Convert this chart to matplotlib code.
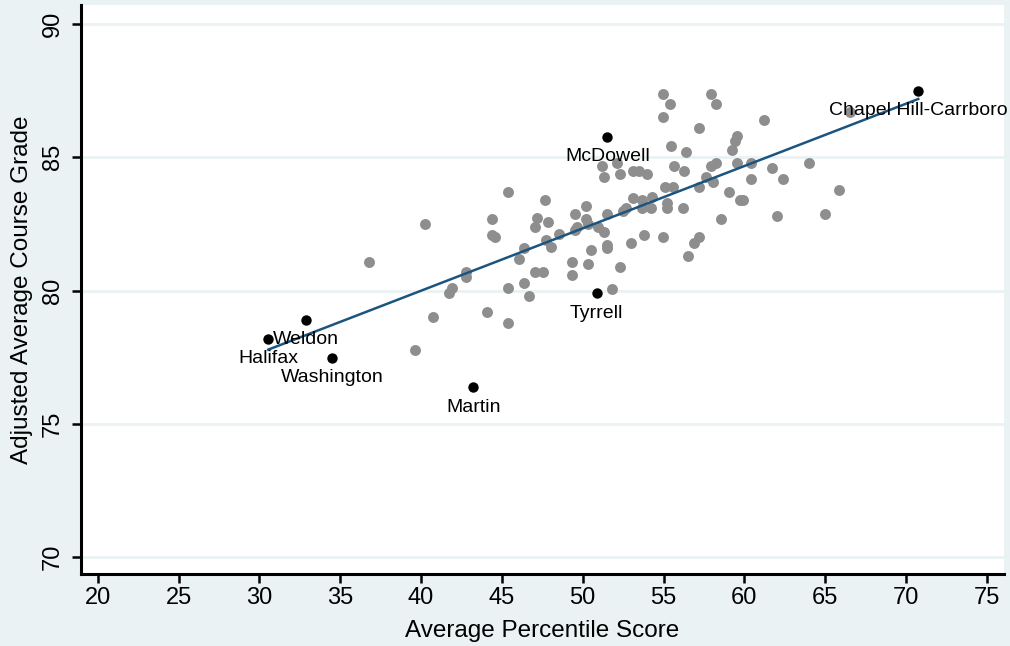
import numpy as np
import matplotlib
matplotlib.use('Agg')
import matplotlib.pyplot as plt

plt.rcParams['font.family'] = ['Liberation Sans', 'DejaVu Sans']

# other districts (grey)
gray_x = [36.80, 40.26, 39.62, 40.75, 41.91, 41.76, 42.75, 42.75, 44.06, 45.39,
          44.40, 44.40, 44.57, 45.39, 45.39, 46.05, 46.38, 46.38, 46.70, 47.03,
          47.56, 47.69, 47.19, 47.04, 47.87, 47.71, 48.01, 48.53, 49.35, 49.35,
          49.52, 50.18, 50.18, 50.35, 49.62, 49.50, 50.51, 50.32, 50.97, 51.32,
          51.48, 51.48, 51.48, 51.83, 52.31, 51.17, 51.32, 52.13, 52.31, 53.10,
          53.48, 53.95, 52.97, 53.78, 53.12, 53.64, 54.26, 53.64, 54.25, 52.51,
          52.70, 54.94, 55.39, 54.94, 54.94, 55.08, 55.60, 55.19, 55.19, 56.22,
          55.46, 56.36, 55.62, 56.26, 56.54, 57.91, 58.24, 61.22, 57.21, 59.55,
          59.41, 59.25, 57.91, 58.24, 59.55, 60.40, 57.60, 58.07, 57.21, 60.40,
          61.72, 62.36, 64.01, 59.06, 59.72, 59.93, 65.83, 58.57, 62.03, 65.00,
          57.21, 56.90, 66.53]
gray_y = [81.09, 82.49, 77.77, 79.00, 80.08, 79.90, 80.70, 80.50, 79.19, 83.69,
          82.68, 82.10, 82.00, 80.08, 78.78, 81.18, 81.58, 80.30, 79.78, 80.69,
          80.69, 83.40, 82.71, 82.40, 82.57, 81.90, 81.64, 82.11, 81.09, 80.59,
          82.88, 83.19, 82.70, 82.50, 82.40, 82.28, 81.53, 80.99, 82.40, 82.20,
          82.88, 81.70, 81.59, 80.07, 80.88, 84.68, 84.28, 84.78, 84.38, 84.49,
          84.47, 84.37, 81.78, 82.08, 83.48, 83.40, 83.50, 83.09, 83.09, 83.00,
          83.09, 87.38, 87.00, 86.50, 82.00, 83.88, 83.88, 83.28, 83.09, 83.09,
          85.41, 85.19, 84.68, 84.50, 81.28, 87.38, 87.00, 86.39, 86.10, 85.81,
          85.63, 85.28, 84.68, 84.80, 84.78, 84.78, 84.28, 84.09, 83.88, 84.19,
          84.59, 84.19, 84.78, 83.69, 83.40, 83.40, 83.78, 82.68, 82.80, 82.88,
          82.00, 81.78, 86.72]

# highlighted districts
names = ['Chapel Hill-Carrboro', 'McDowell', 'Tyrrell', 'Martin',
         'Weldon', 'Halifax', 'Washington']
named_x = [70.75, 51.52, 50.86, 43.23, 32.86, 30.55, 34.51]
named_y = [87.50, 85.78, 79.90, 76.37, 78.89, 78.18, 77.47]

xticks = [20, 25, 30, 35, 40, 45, 50, 55, 60, 65, 70, 75]
yticks = [70, 75, 80, 85, 90]

bg = '#EAF2F3'
fig = plt.figure(figsize=(10.1, 6.46), dpi=100, facecolor=bg)
ax = fig.add_axes([0.0802, 0.1115, 0.9138, 0.8808])
ax.set_facecolor('white')

ax.scatter(gray_x, gray_y, s=62, color='#8E8E8E', linewidths=0, zorder=3)
ax.scatter(named_x, named_y, s=56, color='black', linewidths=0, zorder=4)

# linear fit over all districts
all_x = np.array(gray_x + named_x)
all_y = np.array(gray_y + named_y)
b, a = np.polyfit(all_x, all_y, 1)
fx = np.array([all_x.min(), all_x.max()])
ax.plot(fx, a + b * fx, color='#1A5580', lw=1.8, zorder=5)

for n, x, y in zip(names, named_x, named_y):
    ax.annotate(n, (x, y), xytext=(0, -17.5), textcoords='offset points',
                ha='center', va='baseline', fontsize=14, zorder=6)

ax.set_xlim(18.97, 76.05)
ax.set_ylim(69.36, 90.72)
ax.set_xticks(xticks)
ax.set_yticks(yticks)
ax.grid(axis='y', color=bg, lw=2)
ax.set_axisbelow(True)

for s in ['top', 'right']:
    ax.spines[s].set_visible(False)
for s in ['left', 'bottom']:
    ax.spines[s].set_linewidth(2.2)
ax.tick_params(axis='both', length=6.5, width=1.8, labelsize=17)
ax.tick_params(axis='x', pad=3)
ax.tick_params(axis='y', pad=6)
for lab in ax.get_yticklabels():
    lab.set_rotation(90)
    lab.set_va('center')

fig.text(0.5371, (646 - 637) / 646, 'Average Percentile Score',
         ha='center', va='baseline', fontsize=17.5)
fig.text(22 / 1010, 0.552, 'Adjusted Average Course Grade',
         rotation=90, ha='center', va='center', fontsize=17.5)

fig.savefig('out.png', dpi=100, facecolor=bg)
